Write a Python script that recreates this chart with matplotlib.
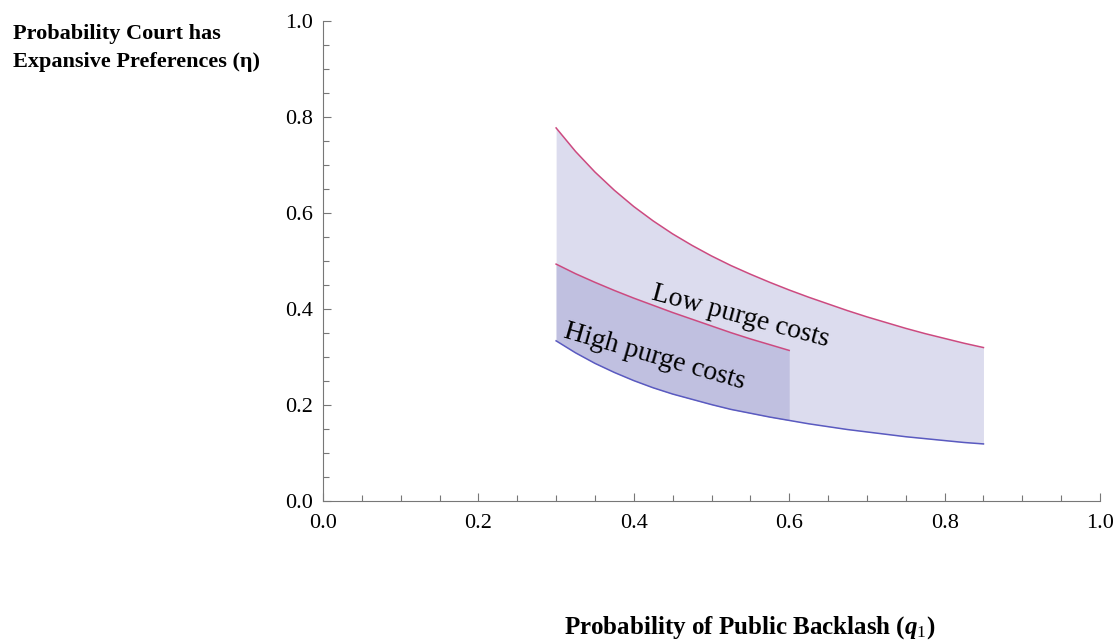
import matplotlib
matplotlib.use("Agg")
import matplotlib.pyplot as plt
from matplotlib.ticker import MultipleLocator

# backlash probability q1 and the three boundary curves
q_wide = [0.300, 0.325, 0.350, 0.375, 0.400, 0.425, 0.450, 0.475, 0.500, 0.525, 0.550, 0.575,
          0.600, 0.625, 0.650, 0.675, 0.700, 0.725, 0.750, 0.775, 0.800, 0.825, 0.850]
low_purge_top = [0.777, 0.728, 0.685, 0.647, 0.613, 0.583, 0.556, 0.532, 0.510, 0.490, 0.472, 0.455,
                 0.439, 0.424, 0.410, 0.396, 0.383, 0.371, 0.359, 0.348, 0.338, 0.328, 0.319]
lower_bound = [0.333, 0.308, 0.286, 0.267, 0.250, 0.235, 0.222, 0.211, 0.200, 0.190, 0.182, 0.174,
               0.167, 0.160, 0.154, 0.148, 0.143, 0.138, 0.133, 0.129, 0.125, 0.121, 0.118]

q_narrow = [0.300, 0.325, 0.350, 0.375, 0.400, 0.425, 0.450, 0.475, 0.500, 0.525, 0.550, 0.575, 0.600]
high_purge_top = [0.493, 0.473, 0.455, 0.438, 0.422, 0.407, 0.392, 0.378, 0.364, 0.350, 0.337, 0.325, 0.313]

xticks = [0.0, 0.2, 0.4, 0.6, 0.8, 1.0]
yticks = [0.0, 0.2, 0.4, 0.6, 0.8, 1.0]

light = "#dcdcee"
dark = "#c0c0e0"
pink = "#cc4a80"
blue = "#5a5ac0"

plt.rcParams["font.family"] = ["Liberation Serif", "DejaVu Serif"]
plt.rcParams["mathtext.fontset"] = "custom"
plt.rcParams["mathtext.rm"] = "Liberation Serif"
plt.rcParams["mathtext.it"] = "Liberation Serif:italic:bold"
plt.rcParams["mathtext.bf"] = "Liberation Serif:bold"

fig = plt.figure(figsize=(11.18, 6.43), dpi=100)
ax = fig.add_axes([323 / 1118, 142.5 / 643, 777 / 1118, 479.5 / 643])

lower_n = lower_bound[:len(q_narrow)]
ax.fill_between(q_wide, lower_bound, low_purge_top, color=light, lw=0)
ax.fill_between(q_narrow, lower_n, high_purge_top, color=dark, lw=0)
ax.plot(q_wide, low_purge_top, color=pink, lw=1.1)
ax.plot(q_narrow, high_purge_top, color=pink, lw=1.1)
ax.plot(q_wide, lower_bound, color=blue, lw=1.1)

ax.text(0.537, 0.384, "Low purge costs", fontsize=20, rotation=-15,
        ha="center", va="center")
ax.text(0.427, 0.300, "High purge costs", fontsize=20, rotation=-16,
        ha="center", va="center")

ax.set_xlim(0, 1)
ax.set_ylim(0, 1)
ax.set_xticks(xticks)
ax.set_yticks(yticks)
ax.set_xticklabels(["%.1f" % t for t in xticks])
ax.set_yticklabels(["%.1f" % t for t in yticks])
ax.xaxis.set_minor_locator(MultipleLocator(0.05))
ax.yaxis.set_minor_locator(MultipleLocator(0.05))
ax.tick_params(which="major", direction="in", length=6, width=0.8,
               color="#777777", labelsize=16)
ax.tick_params(which="minor", direction="in", length=4, width=0.8,
               color="#777777")
ax.tick_params(axis="x", pad=10)
ax.tick_params(axis="y", pad=7)

for s in ["top", "right"]:
    ax.spines[s].set_visible(False)
for s in ["left", "bottom"]:
    ax.spines[s].set_color("#777777")
    ax.spines[s].set_linewidth(0.8)

fig.text(13 / 1118, 1 - 39 / 643, "Probability Court has",
         fontsize=16, fontweight="bold", ha="left", va="baseline")
fig.text(13 / 1118, 1 - 67 / 643, "Expansive Preferences (\u03b7)",
         fontsize=16, fontweight="bold", ha="left", va="baseline")
fig.text(750 / 1118, 1 - 634 / 643, "Probability of Public Backlash ($q_1$)",
         fontsize=18, fontweight="bold", ha="center", va="baseline")

fig.savefig("out.png", dpi=100)
